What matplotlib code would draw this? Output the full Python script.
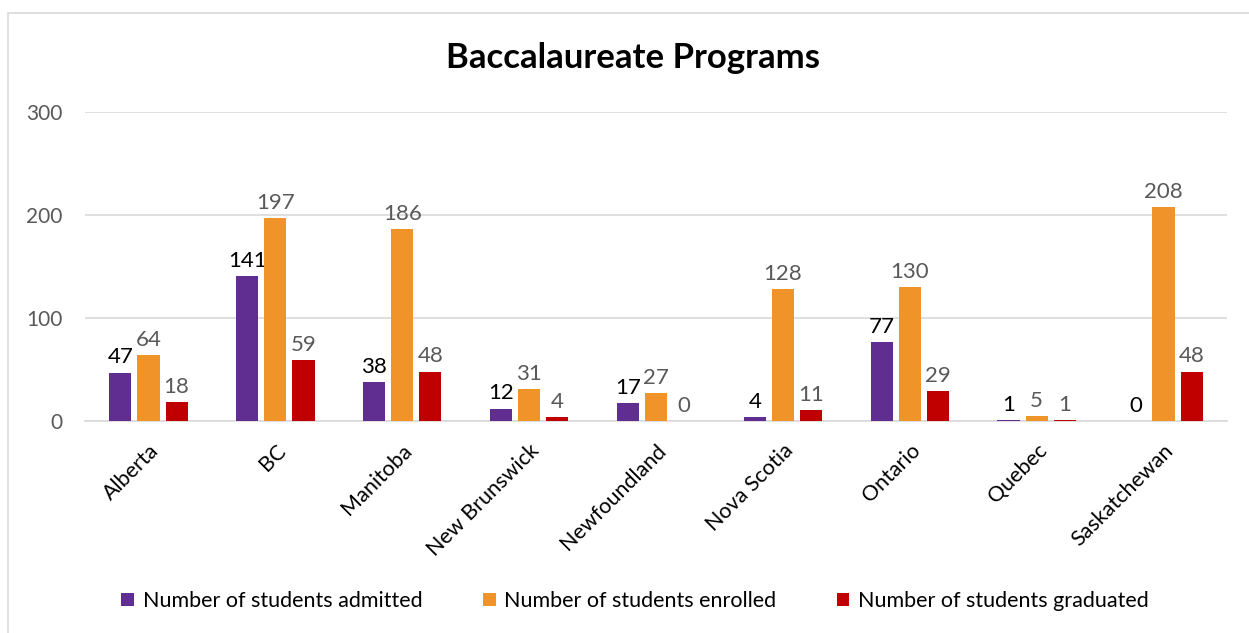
import numpy as np
import matplotlib.pyplot as plt
from matplotlib.patches import Rectangle

plt.rcParams['font.family'] = ['Lato', 'DejaVu Sans']

provinces = ['Alberta', 'BC', 'Manitoba', 'New Brunswick', 'Newfoundland',
             'Nova Scotia', 'Ontario', 'Quebec', 'Saskatchewan']
admitted = [47, 141, 38, 12, 17, 4, 77, 1, 0]
enrolled = [64, 197, 186, 31, 27, 128, 130, 5, 208]
graduated = [18, 59, 48, 4, 0, 11, 29, 1, 48]

series = [
    ('Number of students admitted', admitted, '#602D91', 'black'),
    ('Number of students enrolled', enrolled, '#F0942A', '#595959'),
    ('Number of students graduated', graduated, '#C00000', '#595959'),
]

fig = plt.figure(figsize=(12.49, 6.33), dpi=100)
fig.patches.append(Rectangle((8 / 1249, -0.1), 1.2, 1 - 13 / 633 + 0.1,
                             transform=fig.transFigure, fill=False,
                             edgecolor='#D9D9D9', linewidth=1.2))
ax = fig.add_axes([85 / 1249, 1 - 421 / 633, (1227 - 85) / 1249, (421 - 112) / 633])

x = np.arange(len(provinces))
w = 0.175
step = 0.222
for i, (name, vals, col, lcol) in enumerate(series):
    pos = x + (i - 1) * step
    bars = ax.bar(pos, vals, w, color=col, label=name, zorder=3)
    for p, v in zip(pos, vals):
        ax.text(p, v + 5, str(v), ha='center', va='bottom', fontsize=16,
                color=lcol)

ax.set_xlim(-0.5, len(provinces) - 0.5)
ax.set_ylim(0, 300)
ax.set_yticks([0, 100, 200, 300])
ax.yaxis.grid(True, color='#D9D9D9', linewidth=1.2, zorder=0)
for s in ['top', 'right', 'left']:
    ax.spines[s].set_visible(False)
ax.spines['bottom'].set_color('#D9D9D9')
ax.spines['bottom'].set_linewidth(1.2)
ax.tick_params(axis='both', length=0)
ax.tick_params(axis='y', labelsize=15, labelcolor='#595959', pad=16)
ax.set_xticks(x)
ax.set_xticklabels(provinces, rotation=45, ha='right', rotation_mode='anchor',
                   fontsize=15.5)
ax.tick_params(axis='x', pad=14)

fig.text(633 / 1249, 1 - 58 / 633, 'Baccalaureate Programs', ha='center',
         va='center', fontsize=25, fontweight='bold')

fig.legend(loc='center', bbox_to_anchor=(635 / 1249, 1 - 601 / 633), ncol=3,
           frameon=False, fontsize=15.5, handlelength=0.6, handleheight=0.6,
           handletextpad=0.4, columnspacing=2.8)

fig.savefig('out.png', dpi=100)
